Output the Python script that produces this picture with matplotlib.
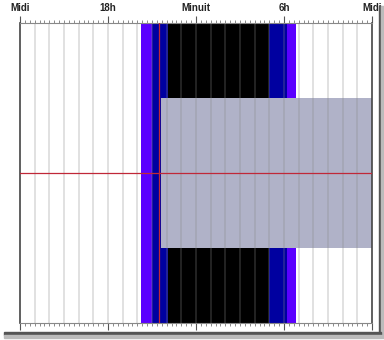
import matplotlib
matplotlib.use("Agg")
import matplotlib.pyplot as plt
from matplotlib.patches import Rectangle
import numpy as np

# hours run from noon (12) to next noon (36)
HOUR_START = 12
HOUR_END = 36

TICK_HOURS = [12, 18, 24, 30, 36]
TICK_LABELS = ["Midi", "18h", "Minuit", "6h", "Midi"]

# twilight / night bands (start hour, end hour, colour)
BAND_STARTS = [20.23, 20.98, 22.11, 29.0, 30.23]
BAND_ENDS = [20.98, 22.11, 29.0, 30.23, 30.82]
BAND_COLORS = ["#5a00ff", "#0000a0", "#000000", "#0000a0", "#5a00ff"]

# grey block (hour start, hour end, low, high)
BLOCK_X = [21.61, 36.0]
BLOCK_Y = [0.25, 0.75]

# red marker lines
MARK_HOUR = 21.48
MARK_LEVEL = 0.5


def main():
    fig = plt.figure(figsize=(3.84, 3.40), dpi=100)
    fig.patch.set_facecolor("white")

    # fake screenshot drop shadow
    fig.patches.append(Rectangle((379 / 384, 4 / 340), 2 / 384, 330 / 340,
                                 transform=fig.transFigure, color="#555555", zorder=0))
    fig.patches.append(Rectangle((381 / 384, 3 / 340), 3 / 384, 331 / 340,
                                 transform=fig.transFigure, color="#bbbbbb", zorder=0))
    fig.patches.append(Rectangle((4 / 384, 5 / 340), 377 / 384, 3 / 340,
                                 transform=fig.transFigure, color="#555555", zorder=0))
    fig.patches.append(Rectangle((4 / 384, 2 / 340), 380 / 384, 3 / 340,
                                 transform=fig.transFigure, color="#bbbbbb", zorder=0))

    ax = fig.add_axes([20 / 384, 17 / 340, 352 / 384, 300 / 340])

    for s, e, c in zip(BAND_STARTS, BAND_ENDS, BAND_COLORS):
        ax.axvspan(s, e, color=c, lw=0, zorder=1)

    ax.add_patch(Rectangle((BLOCK_X[0], BLOCK_Y[0]), BLOCK_X[1] - BLOCK_X[0],
                           BLOCK_Y[1] - BLOCK_Y[0], color="#b0b2c8", lw=0, zorder=2))

    # hourly grid
    for h in range(HOUR_START + 1, HOUR_END):
        ax.axvline(h, color="#888888", alpha=0.3, lw=1.2, zorder=3)

    ax.axvline(MARK_HOUR, color="#c02838", lw=0.9, zorder=4)
    ax.axhline(MARK_LEVEL, color="#c02838", lw=0.9, zorder=4)

    # ticks top and bottom
    ax.set_xticks(TICK_HOURS)
    ax.set_xticklabels(TICK_LABELS, fontsize=7, fontweight="bold",
                       family="Liberation Sans", color="#222222")
    ax.set_xticks(np.arange(HOUR_START, HOUR_END + 0.01, 1 / 3), minor=True)
    ax.tick_params(axis="x", which="major", direction="out", length=5, width=0.8,
                   color="#555555", top=True, bottom=True,
                   labeltop=True, labelbottom=False, pad=2)
    ax.tick_params(axis="x", which="minor", direction="out", length=2, width=0.6,
                   color="#777777", top=True, bottom=True)
    ax.set_yticks([])
    ax.set_xlim(HOUR_START, HOUR_END)
    ax.set_ylim(0, 1)

    for side in ["left", "right"]:
        ax.spines[side].set_color("#444444")
        ax.spines[side].set_linewidth(1.2)
    for side in ["top", "bottom"]:
        ax.spines[side].set_color("#888888")
        ax.spines[side].set_linewidth(0.8)

    plt.savefig("out.png", dpi=100)


if __name__ == '__main__':
    main()
